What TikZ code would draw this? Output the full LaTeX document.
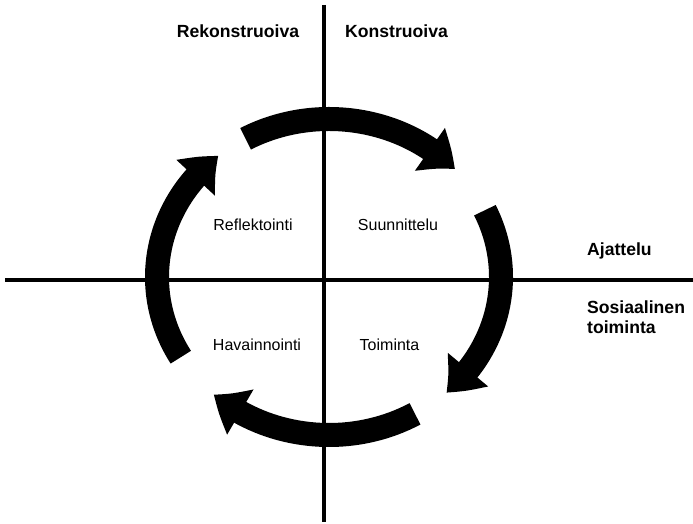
\documentclass[tikz,border=0pt]{standalone}
\usepackage{fontspec}
\setmainfont{Liberation Sans}
\usetikzlibrary{arrows.meta,bending}

\begin{document}
\begin{tikzpicture}[x=1pt,y=1pt,
                    axis line/.style={line width=3.6pt},
                    cycle arrow/.style={line width=24pt,-{Triangle[width=50pt,length=32pt,bend]}},
                    side node/.style={font=\fontsize{17.6}{20}\selectfont\bfseries,inner sep=0pt},
                    phase node/.style={font=\fontsize{16}{19}\selectfont,inner sep=0pt,anchor=base}]

  \useasboundingbox (0,0) rectangle (693,523);
  \coordinate (c) at (329,246);

  % axes
  \coordinate (ax n) at (324,518);
  \coordinate (ax s) at (324,1);
  \coordinate (ax w) at (5,243);
  \coordinate (ax e) at (693,243);
  \draw[axis line] (ax n) -- (ax s);
  \draw[axis line] (ax w) -- (ax e);

  % cycle
  \coordinate (a1) at ([shift={(119:172 and 158)}]c);
  \coordinate (a2) at ([shift={(25:172 and 158)}]c);
  \coordinate (a3) at ([shift={(-60:172 and 158)}]c);
  \coordinate (a4) at ([shift={(210.5:172 and 158)}]c);
  \draw[cycle arrow] (a1) arc[start angle=119, end angle=43, x radius=172, y radius=158];
  \draw[cycle arrow] (a2) arc[start angle=25, end angle=-47, x radius=172, y radius=158];
  \draw[cycle arrow] (a3) arc[start angle=-60, end angle=-132, x radius=172, y radius=158];
  \draw[cycle arrow] (a4) arc[start angle=210.5, end angle=130, x radius=172, y radius=158];

  \node[side node,anchor=base] (rek) at (238,485) {Rekonstruoiva};
  \node[side node,anchor=base] (kon) at (396.5,485) {Konstruoiva};
  \node[side node,anchor=base west] (ajat) at (587,268) {Ajattelu};
  \node[side node,anchor=north west,align=left] (sos) at (587,222) {Sosiaalinen\\toiminta};

  \node[phase node] (refl) at (253,293) {Reflektointi};
  \node[phase node] (suun) at (398,293) {Suunnittelu};
  \node[phase node] (hav) at (257,173) {Havainnointi};
  \node[phase node] (toim) at (389.5,173) {Toiminta};

\end{tikzpicture}
\end{document}
